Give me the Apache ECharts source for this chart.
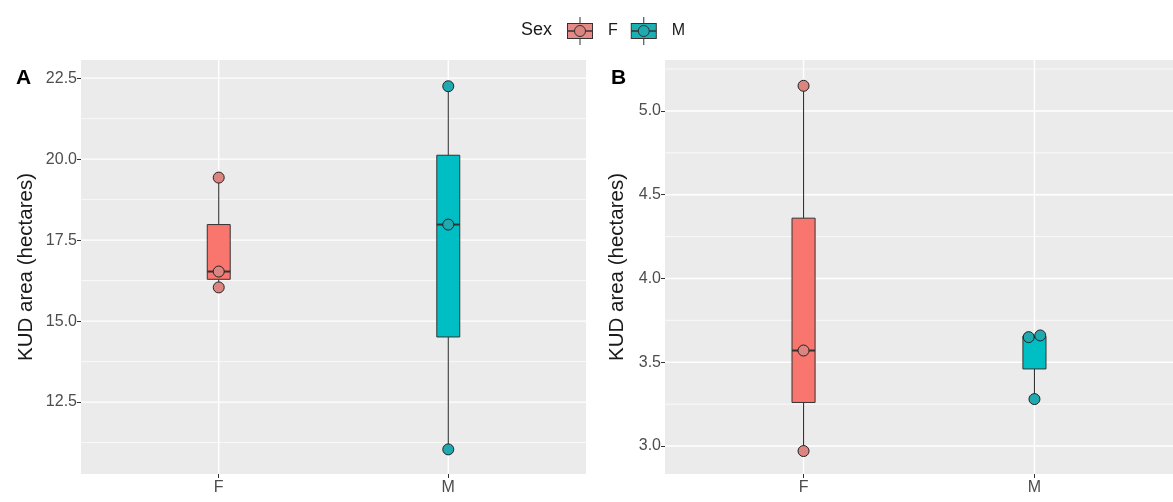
<!DOCTYPE html>
<html>
<head>
<meta charset="utf-8">
<script src="https://cdn.jsdelivr.net/npm/echarts@6/dist/echarts.min.js"></script>
<style>
  html, body { margin: 0; padding: 0; background: #ffffff; }
  #chart { width: 1173px; height: 502px; }
</style>
</head>
<body>
<div id="chart"></div>
<script>
// ---------- data ----------
const categories = ['F', 'M'];
const legendTitle = 'Sex';
const yTitle = 'KUD area (hectares)';
const panelLabels = ['A', 'B'];

// individual observations (panel A)
const pointsA_F = [16.04, 16.53, 19.43];
const pointsA_M = [11.04, 17.98, 22.25];
// individual observations (panel B)
const pointsB_F = [2.97, 3.57, 5.15];
const pointsB_M = [3.28, 3.65, 3.66];
// horizontal jitter of the points (category units)
const jitterA_F = [0, 0, 0];
const jitterA_M = [0, 0, 0];
const jitterB_F = [0, 0, 0];
const jitterB_M = [0, -0.025, 0.025];

// box statistics [min, Q1, median, Q3, max]
const boxA_F = [16.04, 16.29, 16.53, 17.98, 19.43];
const boxA_M = [11.04, 14.51, 17.98, 20.12, 22.25];
const boxB_F = [2.97, 3.26, 3.57, 4.36, 5.15];
const boxB_M = [3.28, 3.46, 3.65, 3.655, 3.66];

// axis ranges and ticks
const yRangeA = [10.28, 23.06];
const yRangeB = [2.833, 5.304];
const majorTicksA = [12.5, 15.0, 17.5, 20.0, 22.5];
const minorTicksA = [11.25, 13.75, 16.25, 18.75, 21.25];
const majorTicksB = [3.0, 3.5, 4.0, 4.5, 5.0];
const minorTicksB = [3.25, 3.75, 4.25, 4.75, 5.25];
const xRange = [0.4, 2.6];
const xTicks = [1, 2];

// ---------- styling ----------
const FONT = 'Liberation Sans, Arial, sans-serif';
const fillColors = ['#F8766D', '#00BFC4'];
const pointColors = ['#DC8480', '#1EAAB0'];
const keyFill = ['#E58A87', '#1CB0B5'];
const dark = '#333333';

function keyIcon(fill, pt) {
  const svg = '<svg xmlns="http://www.w3.org/2000/svg" width="37" height="28" viewBox="0 0 37 28">' +
    '<line x1="14" y1="0" x2="14" y2="28" stroke="#333" stroke-width="1"/>' +
    '<rect x="1.5" y="6.5" width="25" height="15" fill="' + fill + '" stroke="#333" stroke-width="1"/>' +
    '<line x1="1.5" y1="14" x2="26.5" y2="14" stroke="#333" stroke-width="1.5"/>' +
    '<circle cx="14" cy="14" r="5.5" fill="' + pt + '" stroke="#333" stroke-width="1"/>' +
    '</svg>';
  return 'image://data:image/svg+xml;charset=utf-8,' + encodeURIComponent(svg);
}

function gridRows(majors, minors) {
  const rows = [];
  majors.forEach(v => rows.push([1, v, 0]));
  minors.forEach(v => rows.push([1, v, 1]));
  return rows;
}
function vRows(yMin) {
  return xTicks.map(x => [x, yMin, 2]);
}

function renderGrid(params, api) {
  const cs = params.coordSys;
  const kind = api.value(2);
  const p = api.coord([api.value(0), api.value(1)]);
  if (kind === 2) {
    return { type: 'line', silent: true,
      shape: { x1: p[0], y1: cs.y, x2: p[0], y2: cs.y + cs.height },
      style: { stroke: '#ffffff', lineWidth: 1.4 } };
  }
  if (p[1] < cs.y || p[1] > cs.y + cs.height) return null;
  return { type: 'line', silent: true,
    shape: { x1: cs.x, y1: p[1], x2: cs.x + cs.width, y2: p[1] },
    style: { stroke: '#ffffff', lineWidth: kind === 0 ? 1.4 : 0.7 } };
}

function renderBox(params, api) {
  const x = api.value(0);
  const lo = api.coord([x, api.value(1)]);
  const q1 = api.coord([x, api.value(2)]);
  const md = api.coord([x, api.value(3)]);
  const q3 = api.coord([x, api.value(4)]);
  const hi = api.coord([x, api.value(5)]);
  const w = api.size([0.1, 0])[0];
  const cx = lo[0];
  const fill = fillColors[api.value(6)];
  return { type: 'group', children: [
    { type: 'line', shape: { x1: cx, y1: hi[1], x2: cx, y2: q3[1] }, style: { stroke: dark, lineWidth: 1.1 } },
    { type: 'line', shape: { x1: cx, y1: q1[1], x2: cx, y2: lo[1] }, style: { stroke: dark, lineWidth: 1.1 } },
    { type: 'rect', shape: { x: cx - w / 2, y: q3[1], width: w, height: q1[1] - q3[1] },
      style: { fill: fill, stroke: dark, lineWidth: 1 } },
    { type: 'line', shape: { x1: cx - w / 2, y1: md[1], x2: cx + w / 2, y2: md[1] }, style: { stroke: dark, lineWidth: 2 } }
  ] };
}

function pts(values, jitter, catIdx) {
  return values.map((v, i) => [catIdx + 1 + jitter[i], v]);
}

function xAxisDef(gridIndex) {
  return {
    type: 'value', gridIndex: gridIndex, min: xRange[0], max: xRange[1],
    axisLine: { show: false },
    splitLine: { show: false },
    axisTick: { show: true, customValues: xTicks, length: 4, lineStyle: { color: dark, width: 1 } },
    axisLabel: { show: true, customValues: xTicks, margin: 6, color: '#4D4D4D', fontSize: 16,
      fontFamily: FONT,
      formatter: v => categories[Math.round(v) - 1] || '' }
  };
}
function yAxisDef(gridIndex, range, majors, gap) {
  return {
    type: 'value', gridIndex: gridIndex, min: range[0], max: range[1],
    axisLine: { show: false },
    splitLine: { show: false },
    axisTick: { show: true, customValues: majors, length: 4, lineStyle: { color: dark, width: 1 } },
    axisLabel: { show: true, customValues: majors, margin: 4, color: '#4D4D4D', fontSize: 16,
      fontFamily: FONT,
      formatter: v => v.toFixed(1) },
    name: yTitle, nameLocation: 'middle', nameRotate: 90, nameGap: gap,
    nameTextStyle: { fontSize: 20.5, color: '#1A1A1A', fontFamily: FONT }
  };
}

const chart = echarts.init(document.getElementById('chart'), null, { renderer: 'canvas' });

const option = {
  animation: false,
  backgroundColor: '#ffffff',
  title: [
    { text: legendTitle, left: 516, top: 16, textStyle: { fontSize: 18, fontWeight: 'normal', color: '#1A1A1A', fontFamily: FONT } },
    { text: panelLabels[0], left: 11, top: 63, textStyle: { fontSize: 21, fontWeight: 'bold', color: '#000', fontFamily: FONT } },
    { text: panelLabels[1], left: 606, top: 63, textStyle: { fontSize: 21, fontWeight: 'bold', color: '#000', fontFamily: FONT } }
  ],
  legend: {
    left: 561, top: 12, orient: 'horizontal',
    itemWidth: 37, itemHeight: 28, itemGap: 12,
    selectedMode: false,
    textStyle: { fontSize: 16, color: '#1A1A1A', fontFamily: FONT },
    data: [
      { name: categories[0], icon: keyIcon(keyFill[0], pointColors[0]) },
      { name: categories[1], icon: keyIcon(keyFill[1], pointColors[1]) }
    ]
  },
  grid: [
    { left: 81, right: 587, top: 60, bottom: 28, show: true, backgroundColor: '#EBEBEB', borderWidth: 0 },
    { left: 665, right: 0, top: 60, bottom: 28, show: true, backgroundColor: '#EBEBEB', borderWidth: 0 }
  ],
  xAxis: [xAxisDef(0), xAxisDef(1)],
  yAxis: [yAxisDef(0, yRangeA, majorTicksA, 44), yAxisDef(1, yRangeB, majorTicksB, 37)],
  series: [
    { type: 'custom', name: 'gridA', xAxisIndex: 0, yAxisIndex: 0, z: 1, silent: true,
      renderItem: renderGrid, data: gridRows(majorTicksA, minorTicksA).concat(vRows(yRangeA[0] + 0.01)) },
    { type: 'custom', name: 'gridB', xAxisIndex: 1, yAxisIndex: 1, z: 1, silent: true,
      renderItem: renderGrid, data: gridRows(majorTicksB, minorTicksB).concat(vRows(yRangeB[0] + 0.01)) },
    { type: 'custom', name: 'boxA', xAxisIndex: 0, yAxisIndex: 0, z: 3,
      renderItem: renderBox, data: [[1].concat(boxA_F, [0]), [2].concat(boxA_M, [1])] },
    { type: 'custom', name: 'boxB', xAxisIndex: 1, yAxisIndex: 1, z: 3,
      renderItem: renderBox, data: [[1].concat(boxB_F, [0]), [2].concat(boxB_M, [1])] },
    { type: 'scatter', name: categories[0], xAxisIndex: 0, yAxisIndex: 0, z: 5, symbolSize: 11,
      itemStyle: { color: pointColors[0], borderColor: '#222', borderWidth: 1, opacity: 1 },
      data: pts(pointsA_F, jitterA_F, 0) },
    { type: 'scatter', name: categories[1], xAxisIndex: 0, yAxisIndex: 0, z: 5, symbolSize: 11,
      itemStyle: { color: pointColors[1], borderColor: '#222', borderWidth: 1, opacity: 1 },
      data: pts(pointsA_M, jitterA_M, 1) },
    { type: 'scatter', name: categories[0], xAxisIndex: 1, yAxisIndex: 1, z: 5, symbolSize: 11,
      itemStyle: { color: pointColors[0], borderColor: '#222', borderWidth: 1, opacity: 1 },
      data: pts(pointsB_F, jitterB_F, 0) },
    { type: 'scatter', name: categories[1], xAxisIndex: 1, yAxisIndex: 1, z: 5, symbolSize: 11,
      itemStyle: { color: pointColors[1], borderColor: '#222', borderWidth: 1, opacity: 1 },
      data: pts(pointsB_M, jitterB_M, 1) }
  ]
};
chart.setOption(option);
</script>
</body>
</html>
